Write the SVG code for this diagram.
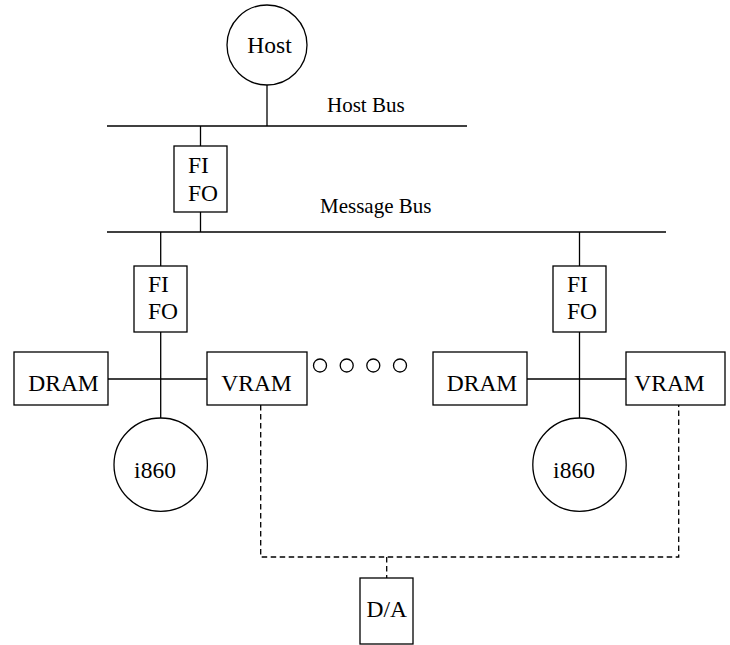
<svg xmlns="http://www.w3.org/2000/svg" width="730" height="645" viewBox="0 0 730 645">
<style>
.s{fill:#fff;stroke:#000;stroke-width:1.3}
.l{fill:none;stroke:#000;stroke-width:1.3}
.d{fill:none;stroke:#000;stroke-width:1.3;stroke-dasharray:5.5 3.5}
.t{font-family:"Liberation Serif","Times New Roman",serif;font-size:23.5px;fill:#000}
.b{font-family:"Liberation Serif","Times New Roman",serif;font-size:21px;fill:#000}
.m{text-anchor:middle}
</style>
<rect width="730" height="645" fill="#fff"/>
<g id="connectors">
<line class="l" x1="107" y1="126" x2="467" y2="126"/>
<line class="l" x1="107" y1="232" x2="666" y2="232"/>
<line class="l" x1="267" y1="85" x2="267" y2="126"/>
<line class="l" x1="200.5" y1="126" x2="200.5" y2="146"/>
<line class="l" x1="200.5" y1="212" x2="200.5" y2="232"/>
<line class="l" x1="160.7" y1="232" x2="160.7" y2="266"/>
<line class="l" x1="160.7" y1="332" x2="160.7" y2="418"/>
<line class="l" x1="108" y1="379" x2="207" y2="379"/>
<line class="l" x1="579.5" y1="232" x2="579.5" y2="266"/>
<line class="l" x1="579.5" y1="332" x2="579.5" y2="418"/>
<line class="l" x1="527" y1="379" x2="626" y2="379"/>
<polyline class="d" points="260.7,405 260.7,557 678.7,557 678.7,405"/>
<line class="d" x1="386.7" y1="557" x2="386.7" y2="578"/>
</g>
<g id="labels">
<text class="b" x="327" y="112">Host Bus</text>
<text class="b" x="320" y="213">Message Bus</text>
</g>
<g id="host"><circle class="s" cx="267" cy="45" r="40"/><text class="t m" x="269.5" y="53">Host</text></g>
<g id="fifo-top"><rect class="s" x="174" y="146" width="53" height="66"/><text class="t" x="188" y="173">FI</text><text class="t" x="188" y="201">FO</text></g>
<g id="fifo-left"><rect class="s" x="134" y="266" width="53" height="66"/><text class="t" x="148" y="292">FI</text><text class="t" x="148" y="319">FO</text></g>
<g id="dram-left"><rect class="s" x="14" y="352" width="94" height="53"/><text class="t m" x="63.5" y="391">DRAM</text></g>
<g id="vram-left"><rect class="s" x="207" y="352" width="100" height="53"/><text class="t m" x="256.5" y="391">VRAM</text></g>
<g id="i860-left"><circle class="s" cx="160.7" cy="464.7" r="46.7"/><text class="t m" x="155" y="478">i860</text></g>
<g id="dots">
<circle class="l" cx="320" cy="365.5" r="6.5"/>
<circle class="l" cx="346.7" cy="365.5" r="6.5"/>
<circle class="l" cx="373.3" cy="365.5" r="6.5"/>
<circle class="l" cx="400" cy="365.5" r="6.5"/>
</g>
<g id="fifo-right"><rect class="s" x="553" y="266" width="53" height="66"/><text class="t" x="567" y="292">FI</text><text class="t" x="567" y="319">FO</text></g>
<g id="dram-right"><rect class="s" x="433" y="352" width="94" height="53"/><text class="t m" x="482" y="391">DRAM</text></g>
<g id="vram-right"><rect class="s" x="626" y="352" width="99" height="53"/><text class="t m" x="669.5" y="391">VRAM</text></g>
<g id="i860-right"><circle class="s" cx="579.5" cy="464.7" r="46.7"/><text class="t m" x="574" y="478">i860</text></g>
<g id="da"><rect class="s" x="360" y="578" width="53" height="66"/><text class="t m" x="386.7" y="617">D/A</text></g>
</svg>
